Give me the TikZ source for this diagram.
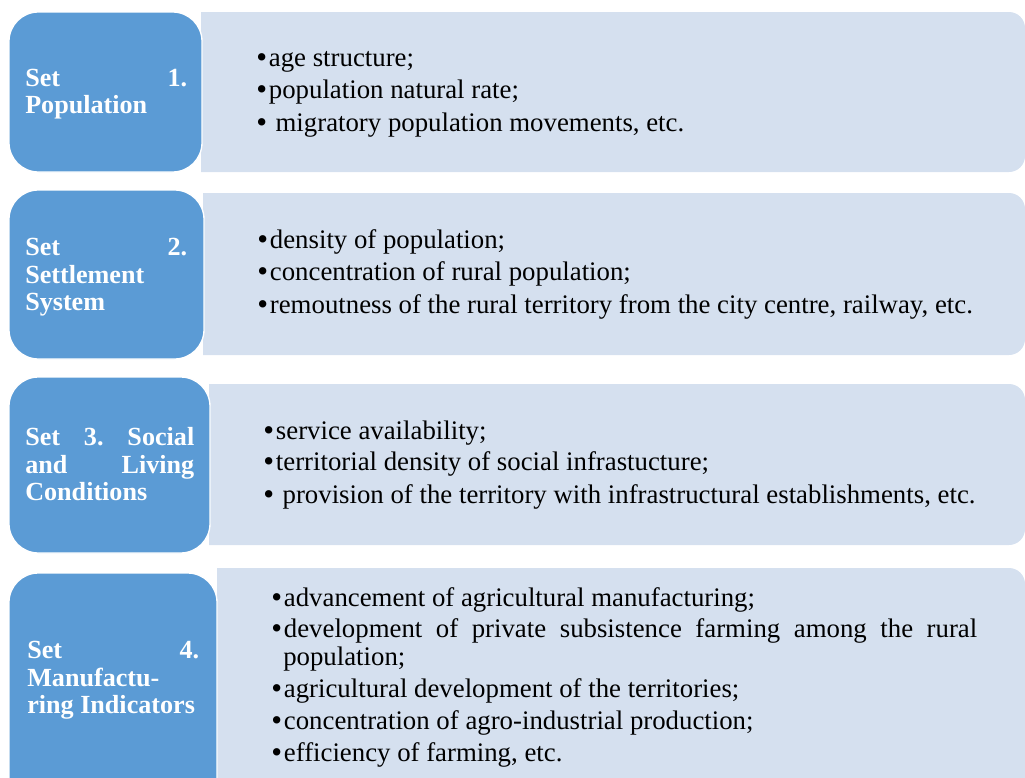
\documentclass[tikz,border=0pt]{standalone}
\usepackage{fontspec}
\setmainfont{Liberation Serif}
\definecolor{setblue}{HTML}{5B9BD5}
\definecolor{listbg}{HTML}{D5E0EF}
\tikzset{
  setbox/.style={fill=setblue, draw=white, line width=1pt, rounded corners=22pt},
  listbox/.style={fill=listbg, rounded corners=12pt},
  settext/.style={anchor=base west, inner sep=0pt, text=white, font=\bfseries\fontsize{19.6pt}{20pt}\selectfont\frenchspacing},
  itemtext/.style={anchor=base west, inner sep=0pt, text=black, font=\fontsize{20.1pt}{21pt}\selectfont\frenchspacing},
}
\newcommand{\bul}{\raisebox{-1.4pt}{\scalebox{1.15}{•}}\kern1.4pt}
\begin{document}
\begin{tikzpicture}[x=0.75pt, y=-0.75pt]
\useasboundingbox (0,0) rectangle (1025,778);
\clip (0,0) rectangle (1025,778);
% light list boxes (square left edge, rounded right corners)
\begin{scope}
  \clip (201,0) rectangle (1100,190);
  \path[listbox] (150,12) rectangle (1025,172);
\end{scope}
\begin{scope}
  \clip (203,180) rectangle (1100,370);
  \path[listbox] (150,193) rectangle (1025,355);
\end{scope}
\begin{scope}
  \clip (209,370) rectangle (1100,560);
  \path[listbox] (150,384) rectangle (1025,545);
\end{scope}
\begin{scope}
  \clip (217,560) rectangle (1100,800);
  \path[listbox] (150,568) rectangle (1025,830);
\end{scope}
% blue set boxes
\path[setbox] (9,12) rectangle (202,172);
\path[setbox] (9,190) rectangle (204,359);
\path[setbox] (9,377) rectangle (210,553);
\path[setbox] (9,573) rectangle (217,830);
% set titles
\node[settext] (s1a) at (25,86) {\makebox[121.5pt][s]{Set 1.}};
\node[settext] (s1b) at (25,113) {Population};
\node[settext] (s2a) at (25,255) {\makebox[121.5pt][s]{Set 2.}};
\node[settext] (s2b) at (25,283) {Settlement};
\node[settext] (s2c) at (25,310) {System};
\node[settext] (s3a) at (25,445) {\makebox[126.75pt][s]{Set 3. Social}};
\node[settext] (s3b) at (25,473) {\makebox[126.75pt][s]{and Living}};
\node[settext] (s3c) at (25,500) {Conditions};
\node[settext] (s4a) at (27,658) {\makebox[129pt][s]{Set 4.}};
\node[settext] (s4b) at (27,686) {Manufactu-};
\node[settext] (s4c) at (27,713) {ring Indicators};
% items
\node[itemtext] (i1a) at (256,66) {\bul age structure;};
\node[itemtext] (i1b) at (256,98) {\bul population natural rate;};
\node[itemtext] (i1c) at (256,131) {\bul\ migratory population movements, etc.};
\node[itemtext] (i2a) at (257,248) {\bul density of population;};
\node[itemtext] (i2b) at (257,280) {\bul concentration of rural population;};
\node[itemtext] (i2c) at (257,313) {\bul remoutness of the rural territory from the city centre, railway, etc.};
\node[itemtext] (i3a) at (263,439) {\bul service availability;};
\node[itemtext] (i3b) at (263,470) {\bul territorial density of social infrastucture;};
\node[itemtext] (i3c) at (263,503) {\bul\ provision of the territory with infrastructural establishments, etc.};
\node[itemtext] (i4a) at (271,606) {\bul advancement of agricultural manufacturing;};
\node[itemtext] (i4b) at (271,637) {\bul\makebox[520pt][s]{development of private subsistence farming among the rural}};
\node[itemtext] (i4c) at (283,665) {population;};
\node[itemtext] (i4d) at (271,697) {\bul agricultural development of the territories;};
\node[itemtext] (i4e) at (271,729) {\bul concentration of agro-industrial production;};
\node[itemtext] (i4f) at (271,761) {\bul efficiency of farming, etc.};
\end{tikzpicture}
\end{document}
